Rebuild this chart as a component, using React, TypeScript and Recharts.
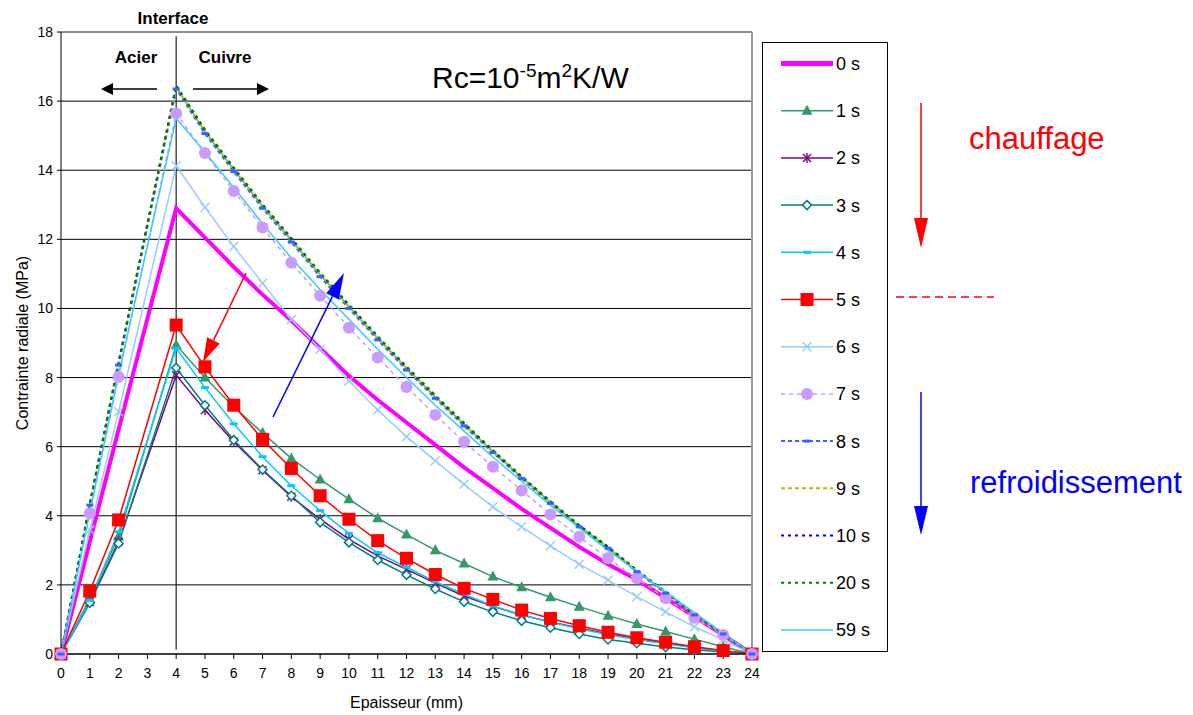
import React from 'react';
import { LineChart, Line, XAxis, YAxis, CartesianGrid, ReferenceLine } from 'recharts';

// Epaisseur (mm) of the computed points (no point at 3 mm)
const epaisseur = [0, 1, 2, 4, 5, 6, 7, 8, 9, 10, 11, 12, 13, 14, 15, 16, 17, 18, 19, 20, 21, 22, 23, 24];

// contrainte radiale (MPa), one list per time step
const t0 = [0, 3.25, 6.5, 12.9, 12.05, 11.2, 10.4, 9.65, 8.85, 8.05, 7.35, 6.7, 6.05, 5.4, 4.8, 4.2, 3.65, 3.1, 2.6, 2.15, 1.62, 1.08, 0.55, 0];
const t1 = [0, 1.6, 3.4, 8.94, 8.0, 7.15, 6.4, 5.66, 5.05, 4.48, 3.93, 3.46, 3.0, 2.62, 2.24, 1.93, 1.64, 1.37, 1.11, 0.87, 0.65, 0.43, 0.21, 0];
const t2 = [0, 1.5, 3.25, 8.07, 7.06, 6.14, 5.32, 4.55, 3.9, 3.32, 2.84, 2.45, 2.05, 1.68, 1.38, 1.13, 0.93, 0.75, 0.58, 0.44, 0.31, 0.19, 0.09, 0];
const t3 = [0, 1.48, 3.2, 8.28, 7.2, 6.19, 5.34, 4.58, 3.81, 3.23, 2.72, 2.29, 1.88, 1.51, 1.22, 0.96, 0.76, 0.58, 0.42, 0.31, 0.2, 0.12, 0.06, 0];
const t4 = [0, 1.55, 3.54, 8.85, 7.71, 6.66, 5.71, 4.87, 4.15, 3.49, 2.93, 2.51, 2.09, 1.73, 1.39, 1.13, 0.92, 0.73, 0.56, 0.42, 0.3, 0.18, 0.08, 0];
const t5 = [0, 1.82, 3.88, 9.52, 8.31, 7.2, 6.21, 5.37, 4.58, 3.9, 3.28, 2.77, 2.3, 1.9, 1.58, 1.27, 1.03, 0.82, 0.63, 0.47, 0.34, 0.21, 0.1, 0];
const t6 = [0, 3.59, 7.01, 14.13, 12.93, 11.79, 10.73, 9.68, 8.82, 7.9, 7.06, 6.29, 5.59, 4.91, 4.26, 3.68, 3.13, 2.6, 2.14, 1.66, 1.22, 0.79, 0.41, 0];
const t7 = [0, 4.07, 8.02, 15.64, 14.5, 13.4, 12.34, 11.32, 10.37, 9.44, 8.58, 7.73, 6.92, 6.14, 5.42, 4.73, 4.04, 3.39, 2.77, 2.19, 1.61, 1.05, 0.55, 0];
const t8 = [0, 4.31, 8.36, 16.35, 15.06, 13.96, 12.9, 11.92, 10.92, 10.0, 9.09, 8.22, 7.4, 6.6, 5.83, 5.08, 4.36, 3.68, 3.06, 2.38, 1.76, 1.13, 0.58, 0];
const t9 = [0, 4.33, 8.4, 16.4, 15.12, 14.02, 12.96, 11.98, 10.98, 10.05, 9.14, 8.27, 7.44, 6.64, 5.86, 5.11, 4.39, 3.7, 3.08, 2.4, 1.78, 1.14, 0.58, 0];
const t10 = [0, 4.35, 8.43, 16.45, 15.16, 14.06, 13.0, 12.02, 11.02, 10.09, 9.18, 8.3, 7.47, 6.67, 5.89, 5.13, 4.41, 3.72, 3.1, 2.42, 1.79, 1.15, 0.59, 0];
const t20 = [0, 4.36, 8.45, 16.45, 15.18, 14.08, 13.02, 12.04, 11.04, 10.11, 9.2, 8.32, 7.49, 6.69, 5.9, 5.14, 4.42, 3.73, 3.11, 2.43, 1.8, 1.16, 0.59, 0];
const t59 = [0, 4.1, 8.1, 15.5, 14.52, 13.5, 12.45, 11.46, 10.55, 9.69, 8.82, 8.0, 7.2, 6.45, 5.7, 5.0, 4.3, 3.65, 3.0, 2.4, 1.8, 1.2, 0.6, 0];

const xTicks = [0, 1, 2, 3, 4, 5, 6, 7, 8, 9, 10, 11, 12, 13, 14, 15, 16, 17, 18, 19, 20, 21, 22, 23, 24];
const yTicks = [0, 2, 4, 6, 8, 10, 12, 14, 16, 18];

const FONT = '"Liberation Sans", Arial, sans-serif';

type Shape = 'none' | 'triangle' | 'star' | 'diamond' | 'bar' | 'square' | 'cross' | 'circle' | 'dash';

const series: { key: string; name: string; values: number[]; color: string; width: number; dash?: string; shape: Shape }[] = [
  { key: 't0', name: '0 s', values: t0, color: '#FF00FF', width: 4, shape: 'none' },
  { key: 't1', name: '1 s', values: t1, color: '#339966', width: 1.5, shape: 'triangle' },
  { key: 't2', name: '2 s', values: t2, color: '#800080', width: 1.5, shape: 'star' },
  { key: 't3', name: '3 s', values: t3, color: '#008080', width: 1.5, shape: 'diamond' },
  { key: 't4', name: '4 s', values: t4, color: '#00CCFF', width: 1.5, shape: 'bar' },
  { key: 't5', name: '5 s', values: t5, color: '#FF0000', width: 1.5, shape: 'square' },
  { key: 't6', name: '6 s', values: t6, color: '#99CCFF', width: 1.5, shape: 'cross' },
  { key: 't7', name: '7 s', values: t7, color: '#CC99FF', width: 1.5, dash: '4 4', shape: 'circle' },
  { key: 't8', name: '8 s', values: t8, color: '#3366FF', width: 2, dash: '4 3', shape: 'dash' },
  { key: 't9', name: '9 s', values: t9, color: '#99CC00', width: 2, dash: '4 3', shape: 'none' },
  { key: 't10', name: '10 s', values: t10, color: '#0000FF', width: 2, dash: '3 4', shape: 'none' },
  { key: 't20', name: '20 s', values: t20, color: '#008000', width: 2, dash: '3 4', shape: 'none' },
  { key: 't59', name: '59 s', values: t59, color: '#33CCFF', width: 1.5, shape: 'none' },
];

const data = epaisseur.map((x, i) => {
  const row: any = { x };
  series.forEach(s => { row[s.key] = s.values[i]; });
  return row;
});

function Marker({ shape, color, cx, cy }: { shape: Shape; color: string; cx: number; cy: number }) {
  switch (shape) {
    case 'triangle':
      return <polygon points={`${cx},${cy - 6} ${cx + 5.5},${cy + 4} ${cx - 5.5},${cy + 4}`} fill={color} />;
    case 'star':
      return (
        <g stroke={color} strokeWidth={1.4}>
          <line x1={cx - 4} y1={cy - 4} x2={cx + 4} y2={cy + 4} />
          <line x1={cx - 4} y1={cy + 4} x2={cx + 4} y2={cy - 4} />
          <line x1={cx} y1={cy - 5} x2={cx} y2={cy + 5} />
        </g>
      );
    case 'diamond':
      return <polygon points={`${cx},${cy - 4.5} ${cx + 4.5},${cy} ${cx},${cy + 4.5} ${cx - 4.5},${cy}`} fill="white" stroke={color} strokeWidth={1.5} />;
    case 'bar':
      return <rect x={cx - 4} y={cy - 1.5} width={8} height={3} fill={color} />;
    case 'square':
      return <rect x={cx - 6.5} y={cy - 6.5} width={13} height={13} fill={color} />;
    case 'cross':
      return (
        <g stroke={color} strokeWidth={1.4}>
          <line x1={cx - 4.5} y1={cy - 4.5} x2={cx + 4.5} y2={cy + 4.5} />
          <line x1={cx - 4.5} y1={cy + 4.5} x2={cx + 4.5} y2={cy - 4.5} />
        </g>
      );
    case 'circle':
      return <circle cx={cx} cy={cy} r={6} fill={color} />;
    case 'dash':
      return <rect x={cx - 3.5} y={cy - 1.5} width={7} height={3} fill={color} />;
    default:
      return <g />;
  }
}

function Arrow({ x1, y1, x2, y2, color, head = 28, half = 7, width = 1.5 }: any) {
  const dx = x2 - x1, dy = y2 - y1;
  const len = Math.sqrt(dx * dx + dy * dy);
  const ux = dx / len, uy = dy / len;
  const bx = x2 - ux * head, by = y2 - uy * head;
  const px = -uy * half, py = ux * half;
  return (
    <g>
      <line x1={x1} y1={y1} x2={bx} y2={by} stroke={color} strokeWidth={width} />
      <polygon points={`${x2},${y2} ${bx + px},${by + py} ${bx - px},${by - py}`} fill={color} />
    </g>
  );
}

export default function App() {
  return (
    <div style={{ position: 'relative', width: 1193, height: 715, background: 'white', fontFamily: FONT }}>
      <style>{'body{margin:0}'}</style>
      <LineChart
        width={1193}
        height={715}
        data={data}
        margin={{ top: 32, right: 441, left: 0, bottom: 0 }}
        style={{ fontFamily: FONT }}
      >
        <CartesianGrid horizontal vertical={false} stroke="#000" strokeWidth={1} />
        <XAxis
          dataKey="x"
          type="number"
          domain={[0, 24]}
          ticks={xTicks}
          interval={0}
          height={61}
          tickSize={5}
          tickMargin={9}
          stroke="#000"
          tick={{ fontSize: 14, fill: '#000' }}
          label={{ value: 'Epaisseur (mm)', position: 'insideBottom', offset: 7, fontSize: 16, fill: '#000' }}
        />
        <YAxis
          type="number"
          domain={[0, 18]}
          ticks={yTicks}
          interval={0}
          width={61}
          tickSize={4}
          tickMargin={4}
          stroke="#000"
          tick={{ fontSize: 14, fill: '#000' }}
          label={{ value: 'Contrainte radiale (MPa)', angle: -90, position: 'insideLeft', offset: 22, fontSize: 16, fill: '#000', style: { textAnchor: 'middle' } }}
        />
        <ReferenceLine y={18} stroke="#8c8c8c" strokeWidth={2} />
        <ReferenceLine x={24} stroke="#9a9a9a" strokeWidth={2} />
        <ReferenceLine segment={[{ x: 4, y: 17.88 }, { x: 4, y: 0.12 }]} stroke="#222" strokeWidth={1.2} />
        {series.map(s => (
          <Line
            key={s.key}
            dataKey={s.key}
            name={s.name}
            type="linear"
            stroke={s.color}
            strokeWidth={s.width}
            strokeDasharray={s.dash}
            isAnimationActive={false}
            activeDot={false}
            dot={s.shape === 'none' ? false : (p: any) => (
              <Marker key={`${s.key}-${p.index}`} shape={s.shape} color={s.color} cx={p.cx} cy={p.cy} />
            )}
          />
        ))}
      </LineChart>

      <svg width={1193} height={715} style={{ position: 'absolute', left: 0, top: 0, pointerEvents: 'none' }} fontFamily={FONT}>
        <text x={173} y={24} textAnchor="middle" fontWeight="bold" fontSize={17}>Interface</text>
        <text x={136} y={63} textAnchor="middle" fontWeight="bold" fontSize={17}>Acier</text>
        <text x={225} y={63} textAnchor="middle" fontWeight="bold" fontSize={17}>Cuivre</text>
        <Arrow x1={157} y1={89} x2={101} y2={89} color="#000" head={12} half={6} width={1.5} />
        <Arrow x1={193} y1={89} x2={269} y2={89} color="#000" head={12} half={6} width={1.5} />

        <text x={432} y={88} fontSize={30}>
          Rc=10<tspan dy={-11} fontSize={19}>-5</tspan>
          <tspan dy={11} fontSize={30}>m</tspan>
          <tspan dy={-11} fontSize={19}>2</tspan>
          <tspan dy={11} fontSize={30}>K/W</tspan>
        </text>

        <Arrow x1={246} y1={273} x2={203} y2={362} color="#FF0000" head={24} half={7} width={1.5} />
        <Arrow x1={273} y1={417} x2={344} y2={273} color="#0000FF" head={26} half={7} width={1.5} />

        <rect x={762.5} y={42.5} width={125} height={609} fill="white" stroke="#000" strokeWidth={1} />
        {series.map((s, i) => {
          const y = 63.5 + i * 47.2;
          return (
            <g key={s.key}>
              <line x1={781} y1={y} x2={833} y2={y} stroke={s.color} strokeWidth={s.key === 't0' ? 5 : s.width} strokeDasharray={s.dash} />
              <Marker shape={s.shape} color={s.color} cx={807} cy={y} />
              <text x={836} y={y + 6.5} fontSize={18}>{s.name}</text>
            </g>
          );
        })}

        <Arrow x1={921} y1={103} x2={921} y2={248} color="#FF0000" head={30} half={7} width={1.5} />
        <text x={969} y={149} fontSize={31} fill="#FF0000">chauffage</text>
        <line x1={896} y1={297} x2={994} y2={297} stroke="#FF0000" strokeWidth={1.5} strokeDasharray="8 5" />
        <Arrow x1={921} y1={392} x2={921} y2={535} color="#0000FF" head={29} half={7} width={1.5} />
        <text x={970} y={493} fontSize={31} fill="#0000FF">refroidissement</text>
      </svg>
    </div>
  );
}
